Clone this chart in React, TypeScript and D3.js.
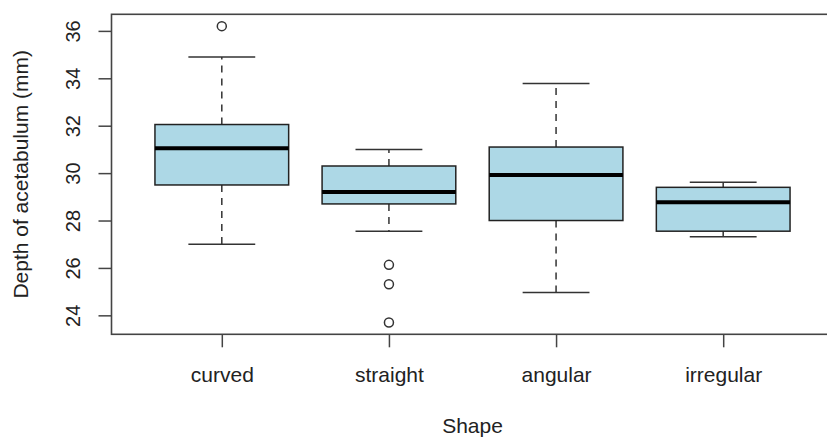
import React, { useRef, useEffect } from 'react';
import * as d3 from 'd3';

// boxplot stats (mm)
const categories = ['curved', 'straight', 'angular', 'irregular'];
const lowerWhisker = [27.0, 27.55, 24.96, 27.32];
const q1 = [29.5, 28.7, 28.0, 27.55];
const medians = [31.05, 29.2, 29.92, 28.77];
const q3 = [32.05, 30.3, 31.1, 29.4];
const upperWhisker = [34.9, 31.0, 33.78, 29.61];
const outliers = [[36.2], [26.13, 25.31, 23.7], [], []];
const yTicks = [24, 26, 28, 30, 32, 34, 36];

const FONT = '"Liberation Sans", Arial, Helvetica, sans-serif';

function App() {
  const ref = useRef(null);

  useEffect(() => {
    drawBoxplot();
  }, []);

  function drawBoxplot() {
    const root = d3.select(ref.current);
    root.selectAll('*').remove();

    const width = 827;
    const height = 437;
    const margin = { top: 14.3, right: -6.5, bottom: 102.7, left: 111.5 };
    const plotW = width - margin.left - margin.right;
    const plotH = height - margin.top - margin.bottom;

    const svg = root
      .append('svg')
      .attr('width', width)
      .attr('height', height)
      .style('position', 'absolute')
      .style('left', 0)
      .style('top', 0)
      .style('background', '#fff')
      .style('font-family', FONT);

    const g = svg
      .append('g')
      .attr('transform', 'translate(' + margin.left + ',' + margin.top + ')');

    // R style range: data extent + 4%
    const allVals = lowerWhisker.concat(upperWhisker, outliers.flat());
    const lo = d3.min(allVals);
    const hi = d3.max(allVals);
    const pad = (hi - lo) * 0.04;

    const y = d3.scaleLinear().domain([lo - pad, hi + pad]).range([plotH, 0]);
    const x = d3.scalePoint().domain(categories).range([0, plotW]).padding(0.66);
    const step = x.step();
    const boxW = step * 0.8;
    const capW = step * 0.4;

    const stroke = '#333';

    categories.forEach(function (c, i) {
      const cx = x(c);
      const grp = g.append('g');

      // whiskers
      grp.append('line')
        .attr('x1', cx).attr('x2', cx)
        .attr('y1', y(q3[i])).attr('y2', y(upperWhisker[i]))
        .attr('stroke', stroke).attr('stroke-width', 1.5)
        .attr('stroke-dasharray', '7,6');
      grp.append('line')
        .attr('x1', cx).attr('x2', cx)
        .attr('y1', y(q1[i])).attr('y2', y(lowerWhisker[i]))
        .attr('stroke', stroke).attr('stroke-width', 1.5)
        .attr('stroke-dasharray', '7,6');

      // staples
      [lowerWhisker[i], upperWhisker[i]].forEach(function (v) {
        grp.append('line')
          .attr('x1', cx - capW / 2).attr('x2', cx + capW / 2)
          .attr('y1', y(v)).attr('y2', y(v))
          .attr('stroke', stroke).attr('stroke-width', 1.5);
      });

      // box
      grp.append('rect')
        .attr('x', cx - boxW / 2)
        .attr('y', y(q3[i]))
        .attr('width', boxW)
        .attr('height', y(q1[i]) - y(q3[i]))
        .attr('fill', '#add8e6')
        .attr('stroke', '#222')
        .attr('stroke-width', 1.5);

      // median
      grp.append('line')
        .attr('x1', cx - boxW / 2).attr('x2', cx + boxW / 2)
        .attr('y1', y(medians[i])).attr('y2', y(medians[i]))
        .attr('stroke', '#000').attr('stroke-width', 4);

      grp.selectAll('circle')
        .data(outliers[i])
        .enter()
        .append('circle')
        .attr('cx', cx)
        .attr('cy', function (d) { return y(d); })
        .attr('r', 4.5)
        .attr('fill', 'none')
        .attr('stroke', stroke)
        .attr('stroke-width', 1.5);
    });

    // frame
    g.append('rect')
      .attr('width', plotW)
      .attr('height', plotH)
      .attr('fill', 'none')
      .attr('stroke', '#444')
      .attr('stroke-width', 1.6);

    // y axis
    const yAxis = g.append('g')
      .call(d3.axisLeft(y).tickValues(yTicks).tickSize(13).tickFormat(d3.format('d')));
    yAxis.select('.domain').remove();
    yAxis.selectAll('line').attr('stroke', '#444').attr('stroke-width', 1.5);
    yAxis.selectAll('text')
      .attr('x', 0).attr('dy', 0)
      .attr('transform', 'translate(-32,0) rotate(-90)')
      .attr('text-anchor', 'middle')
      .attr('fill', '#222')
      .style('font-size', '20px')
      .style('font-family', FONT);

    // x axis
    const xAxis = g.append('g')
      .attr('transform', 'translate(0,' + plotH + ')')
      .call(d3.axisBottom(x).tickSize(13));
    xAxis.select('.domain').remove();
    xAxis.selectAll('line').attr('stroke', '#444').attr('stroke-width', 1.5);
    xAxis.selectAll('text')
      .attr('y', 47.7).attr('dy', 0)
      .attr('fill', '#222')
      .style('font-size', '21px')
      .style('font-family', FONT);

    // axis titles
    svg.append('text')
      .attr('x', margin.left + plotW / 2)
      .attr('y', 433)
      .attr('text-anchor', 'middle')
      .attr('fill', '#222')
      .style('font-size', '21px')
      .text('Shape');

    svg.append('text')
      .attr('transform', 'translate(27.5,' + (margin.top + plotH / 2) + ') rotate(-90)')
      .attr('text-anchor', 'middle')
      .attr('fill', '#222')
      .style('font-size', '21px')
      .text('Depth of acetabulum (mm)');
  }

  return <div id="boxplot" ref={ref} />;
}

export default App;
